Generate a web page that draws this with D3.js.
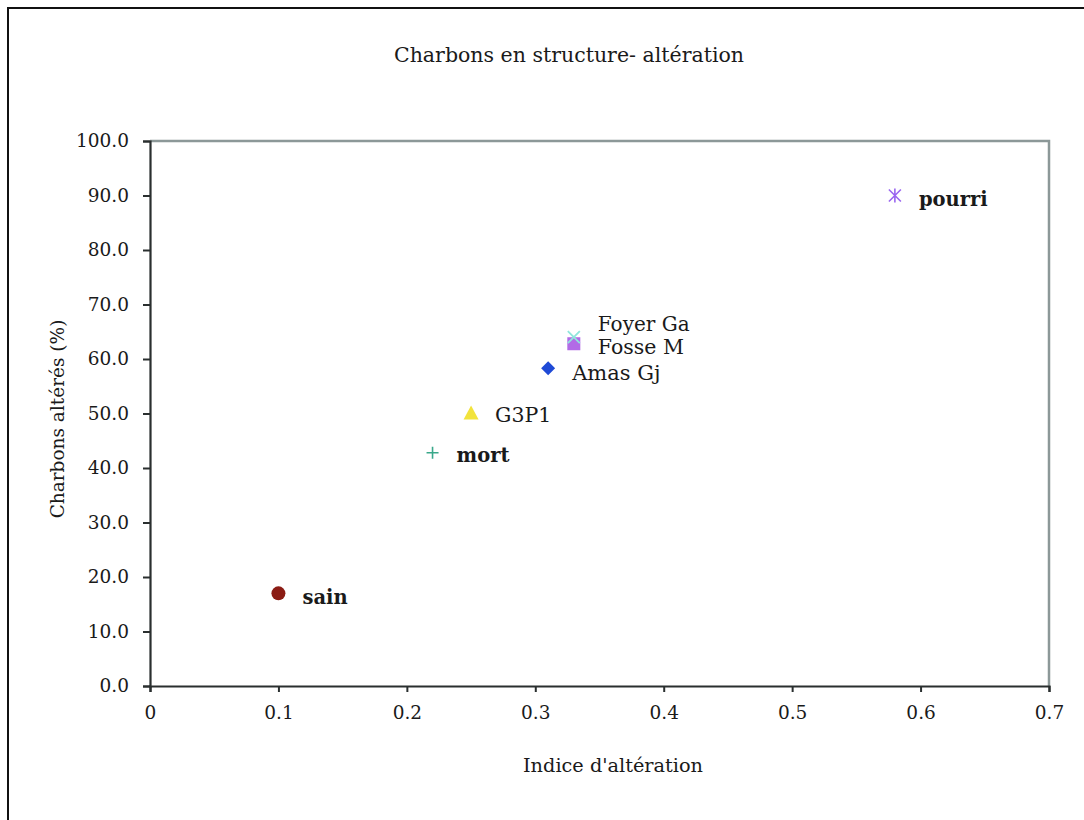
<!DOCTYPE html>
<html><head><meta charset="utf-8">
<script src="https://cdn.jsdelivr.net/npm/d3@7"></script>
<style>
html,body{margin:0;padding:0;background:#fff;}
svg{display:block;}
text{font-family:"DejaVu Serif",serif;fill:#1a1a1a;}
</style></head>
<body>
<script>
// ---- data ----
const names   = ["sain", "mort", "G3P1", "Amas Gj", "Fosse M", "Foyer Ga", "pourri"];
const xValues = [0.10, 0.22, 0.25, 0.31, 0.33, 0.33, 0.58];
const yValues = [17.0, 42.8, 50.0, 58.3, 62.8, 64.0, 90.0];
const xTicks  = [0, 0.1, 0.2, 0.3, 0.4, 0.5, 0.6, 0.7];
const yTicks  = [0, 10, 20, 30, 40, 50, 60, 70, 80, 90, 100];
const title   = "Charbons en structure- altération";
const xTitle  = "Indice d'altération";
const yTitle  = "Charbons altérés (%)";

// ---- styles ----
const symbols = ["circle", "plus", "triangle", "diamond", "square", "x", "asterisk"];
const colors  = ["#8b1c14", "#3aa88a", "#f2e33c", "#1f4ad6", "#b26be6", "#8fe6dc", "#9a66f0"];
const bold    = [true, true, false, false, false, false, true];
const labelDy = [11, 9, 8, 12, 10, -6, 10];
const labelFS = [19.5, 19.5, 20.5, 21, 20.5, 20, 19.5];
const FS = 18.5;

const W = 1084, H = 820;
const m = {left:150, top:141, right:1049, bottom:686};

const svg = d3.select("body").append("svg").attr("width", W).attr("height", H);

// outer frame (top & left visible)
svg.append("path").attr("d", `M8,${H} L8,8 L${W},8`).attr("fill","none").attr("stroke","#111").attr("stroke-width",2);

const x = d3.scaleLinear().domain([0, 0.7]).range([m.left, m.right]);
const y = d3.scaleLinear().domain([0, 100]).range([m.bottom, m.top]);

// plot frame (top & right grey)
svg.append("path").attr("d", `M${m.left},${m.top} L${m.right},${m.top} L${m.right},${m.bottom}`)
  .attr("fill","none").attr("stroke","#8c9898").attr("stroke-width",2.5);

// axes
const xAxis = svg.append("g").attr("transform", `translate(0,${m.bottom})`)
  .call(d3.axisBottom(x).tickValues(xTicks).tickSize(6).tickPadding(14).tickFormat(d => d === 0 ? "0" : d3.format(".1f")(d)));
const yAxis = svg.append("g").attr("transform", `translate(${m.left},0)`)
  .call(d3.axisLeft(y).tickValues(yTicks).tickSize(7).tickPadding(14).tickFormat(d3.format(".1f")));
[xAxis, yAxis].forEach(g => {
  g.select(".domain").attr("stroke","#2a2f2f").attr("stroke-width",2.2);
  g.selectAll(".tick line").attr("stroke","#2a2f2f").attr("stroke-width",2);
  g.selectAll(".tick text").attr("font-size",FS).attr("fill","#1a1a1a").attr("font-family","DejaVu Serif, serif");
});

// titles
svg.append("text").attr("x", 569).attr("y", 62).attr("text-anchor","middle").attr("font-size",20.5).text(title);
svg.append("text").attr("x", 613).attr("y", 772).attr("text-anchor","middle").attr("font-size",19.3).text(xTitle);
svg.append("text").attr("transform", `translate(64,419) rotate(-90)`).attr("text-anchor","middle").attr("font-size",FS).text(yTitle);

// points
const pts = names.map((n,i) => ({n, x:xValues[i], y:yValues[i], i}));
const g = svg.append("g");
pts.forEach(p => {
  const cx = x(p.x), cy = y(p.y), c = colors[p.i], s = symbols[p.i];
  const gg = g.append("g").attr("transform", `translate(${cx},${cy})`);
  if (s === "plus") {
    gg.append("path").attr("d","M-6,0H6M0,-6V6").attr("stroke",c).attr("stroke-width",1.6);
  } else if (s === "x") {
    gg.append("path").attr("d","M-6,-6L6,6M-6,6L6,-6").attr("stroke",c).attr("stroke-width",1.8);
  } else if (s === "asterisk") {
    gg.append("path").attr("d","M-6,-6L6,6M-6,6L6,-6M0,-7V7").attr("stroke",c).attr("stroke-width",1.6);
  } else if (s === "circle") {
    gg.append("circle").attr("r",7).attr("fill",c);
  } else if (s === "triangle") {
    gg.append("path").attr("d","M0,-8L7.5,6L-7.5,6Z").attr("fill",c);
  } else if (s === "diamond") {
    gg.append("path").attr("d","M0,-7L7,0L0,7L-7,0Z").attr("fill",c);
  } else if (s === "square") {
    gg.append("rect").attr("x",-6.5).attr("y",-6.5).attr("width",13).attr("height",13).attr("fill",c);
  }
  svg.append("text").attr("x", cx + 24).attr("y", cy + labelDy[p.i])
    .attr("font-size", labelFS[p.i]).attr("font-weight", bold[p.i] ? "bold" : "normal").text(p.n);
});
</script>
</body></html>
